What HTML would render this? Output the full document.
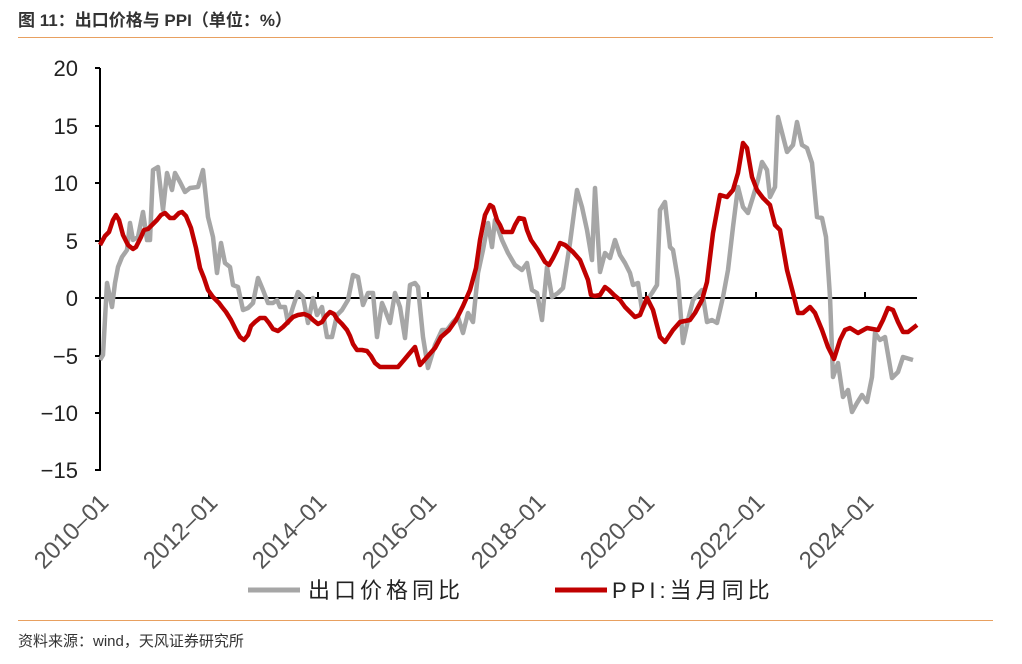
<!DOCTYPE html>
<html><head><meta charset="utf-8"><style>
body{margin:0;background:#fff;width:1022px;height:664px;overflow:hidden;font-family:"Liberation Sans","Noto Sans CJK SC",sans-serif}
</style></head><body>
<svg width="1022" height="664" xmlns="http://www.w3.org/2000/svg" style="position:absolute;left:0;top:0">
<text x="18" y="26" font-size="17" font-weight="bold" fill="#333" font-family="Liberation Sans,Noto Sans CJK SC,sans-serif">图 11：出口价格与 PPI（单位：%）</text>
<line x1="18" y1="37.5" x2="993" y2="37.5" stroke="#e8a060" stroke-width="1"/>
<line x1="18" y1="620.5" x2="993" y2="620.5" stroke="#e8a060" stroke-width="1"/>
<text x="18" y="646" font-size="15" fill="#333" font-family="Liberation Sans,Noto Sans CJK SC,sans-serif">资料来源：wind，天风证券研究所</text>
<g font-size="22" fill="#222" text-anchor="end" font-family="Liberation Sans,sans-serif">
<text x="78" y="76">20</text><text x="78" y="134">15</text><text x="78" y="191">10</text><text x="78" y="249">5</text><text x="78" y="306">0</text><text x="78" y="364">−5</text><text x="78" y="421">−10</text><text x="78" y="478">−15</text>
</g>
<g stroke="#000" stroke-width="2">
<line x1="100" y1="68" x2="100" y2="471"/>
<line x1="95" y1="68" x2="100" y2="68"/><line x1="95" y1="126" x2="100" y2="126"/><line x1="95" y1="183" x2="100" y2="183"/><line x1="95" y1="241" x2="100" y2="241"/><line x1="95" y1="298" x2="100" y2="298"/><line x1="95" y1="356" x2="100" y2="356"/><line x1="95" y1="413" x2="100" y2="413"/><line x1="95" y1="470" x2="100" y2="470"/>
<line x1="100" y1="298" x2="917" y2="298"/>
<line x1="209" y1="292" x2="209" y2="298"/><line x1="318" y1="292" x2="318" y2="298"/><line x1="428" y1="292" x2="428" y2="298"/><line x1="537" y1="292" x2="537" y2="298"/><line x1="646" y1="292" x2="646" y2="298"/><line x1="756" y1="292" x2="756" y2="298"/><line x1="865" y1="292" x2="865" y2="298"/>
</g>
<g font-size="24" fill="#555" text-anchor="end" font-family="Liberation Sans,sans-serif">
<text transform="translate(110,504) rotate(-45)">2010–01</text>
<text transform="translate(219,504) rotate(-45)">2012–01</text>
<text transform="translate(328,504) rotate(-45)">2014–01</text>
<text transform="translate(438,504) rotate(-45)">2016–01</text>
<text transform="translate(547,504) rotate(-45)">2018–01</text>
<text transform="translate(656,504) rotate(-45)">2020–01</text>
<text transform="translate(766,504) rotate(-45)">2022–01</text>
<text transform="translate(875,504) rotate(-45)">2024–01</text>
</g>
<polyline fill="none" stroke="#a6a6a6" stroke-width="4.5" stroke-linejoin="round" points="100,360 103,355 107,283 112,307 115,283 118,267 122,257 127,250 130,223 133,240 138,237 143,212 147,240 150,240 153,170 158,167 163,210 167,173 172,190 175,173 180,182 185,192 190,188 198,187 203,170 208,217 213,237 217,273 221,243 225,263 230,267 233,285 238,287 243,310 248,308 253,303 258,278 263,290 268,303 273,303 277,300 280,307 285,307 288,323 293,307 298,292 303,297 308,323 313,298 317,315 322,307 327,337 332,337 337,315 342,310 348,300 353,275 358,277 363,305 368,293 373,293 377,337 382,303 385,310 390,323 395,293 400,307 405,338 410,285 415,283 418,287 423,337 428,368 435,345 442,330 447,330 453,322 458,317 463,333 468,313 473,322 478,273 483,250 488,223 492,247 495,220 502,240 508,253 515,265 522,270 527,263 532,290 537,293 542,320 547,267 552,297 558,293 563,288 570,243 577,190 582,207 587,230 592,260 595,188 600,272 605,253 610,258 615,240 620,255 625,263 630,273 633,285 638,283 642,310 647,300 652,293 657,285 660,210 665,202 670,247 673,250 678,280 683,343 688,320 693,300 702,290 707,322 712,320 717,323 723,297 728,270 733,227 738,187 743,207 748,213 753,197 758,180 762,162 767,170 770,197 775,187 778,117 787,152 793,145 797,122 802,145 807,148 812,163 817,217 822,218 826,237 830,297 833,377 838,363 843,397 848,390 852,412 857,403 862,395 867,402 872,377 875,333 880,340 885,337 892,378 898,372 903,357 913,360"/>
<polyline fill="none" stroke="#c00000" stroke-width="4.5" stroke-linejoin="round" points="100,245 105,236 109,232 113,220 116,215 119,220 123,235 128,245 133,249 136,247 141,237 144,230 148,229 152,225 157,220 161,215 165,213 170,218 174,218 179,213 182,212 186,216 191,228 196,248 200,268 204,278 208,290 213,297 219,303 222,307 226,312 231,320 236,330 240,337 244,340 248,335 251,326 255,322 260,318 265,318 269,323 273,329 278,331 283,327 288,322 293,317 298,315 304,314 309,316 313,320 318,324 322,322 326,316 330,312 334,314 337,319 342,324 347,330 350,336 353,344 357,350 362,350 367,351 371,356 375,363 380,367 386,367 392,367 398,367 404,360 409,354 415,347 420,365 420,365 427,357 435,348 441,337 449,330 456,320 463,306 470,290 476,268 480,240 485,215 490,205 493,207 497,220 500,225 503,232 508,232 512,232 515,225 519,218 524,219 527,230 531,240 538,250 545,262 549,265 553,258 557,250 560,243 565,245 573,252 580,260 584,270 588,280 591,295 595,296 600,295 605,287 609,290 614,295 620,300 625,307 630,312 635,317 640,315 644,305 647,298 653,310 660,337 665,342 673,330 680,322 690,320 695,313 702,300 707,282 713,233 720,195 727,197 733,190 738,173 743,143 747,148 752,177 757,190 763,198 770,205 775,225 780,230 787,270 793,293 798,313 803,313 810,307 815,313 822,330 828,347 834,359 840,340 845,330 850,328 858,333 867,328 878,330 883,320 888,308 893,310 898,322 903,332 908,332 917,325"/>
<line x1="248" y1="590" x2="300" y2="590" stroke="#a6a6a6" stroke-width="5"/>
<text x="308" y="598" font-size="22" letter-spacing="4" fill="#222" font-family="Liberation Sans,Noto Sans CJK SC,sans-serif">出口价格同比</text>
<line x1="555" y1="590" x2="607" y2="590" stroke="#c00000" stroke-width="5"/>
<text x="612" y="598" font-size="22" letter-spacing="4" fill="#222" font-family="Liberation Sans,Noto Sans CJK SC,sans-serif">PPI:当月同比</text>
</svg>
</body></html>
